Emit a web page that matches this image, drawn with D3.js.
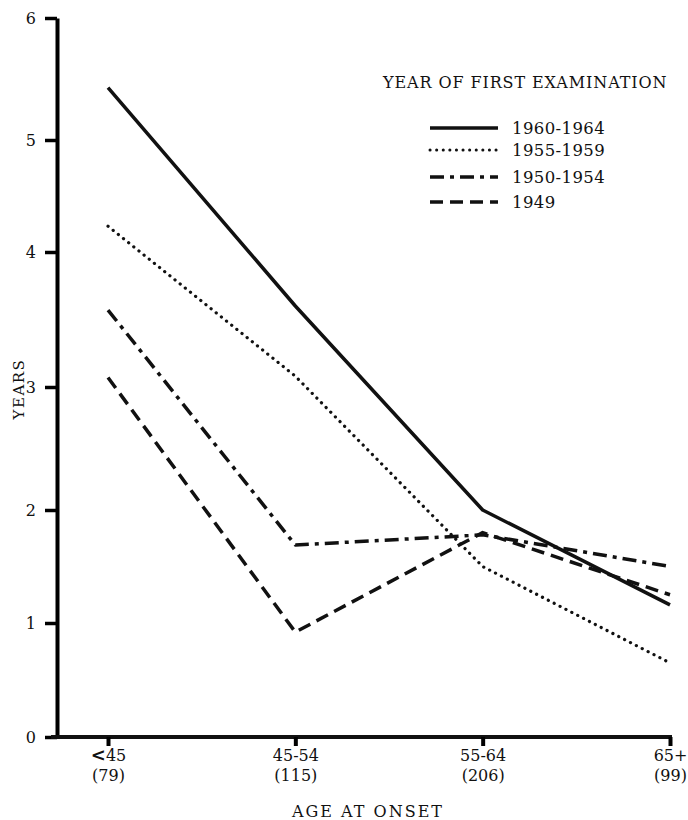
<!DOCTYPE html>
<html>
<head>
<meta charset="utf-8">
<script src="https://cdnjs.cloudflare.com/ajax/libs/d3/7.8.5/d3.min.js"></script>
<style>
  body { margin: 0; background: #fff; }
  text { font-family: "DejaVu Serif", serif; fill: #111; }
</style>
</head>
<body>
<script>
const width = 688;
const height = 820;

// data
const ages = ["<45", "45-54", "55-64", "65+"];
const counts = ["(79)", "(115)", "(206)", "(99)"];
const years1960 = [5.43, 3.6, 2.0, 1.16];
const years1955 = [4.23, 3.08, 1.5, 0.65];
const years1950 = [3.57, 1.69, 1.78, 1.5];
const years1949 = [3.07, 0.92, 1.8, 1.25];
const seriesNames = ["1960-1964", "1955-1959", "1950-1954", "1949"];
const yTicks = [0, 1, 2, 3, 4, 5, 6];

const series = [
    { name: seriesNames[0], values: years1960, dash: null, cap: "butt" },
    { name: seriesNames[1], values: years1955, dash: "0.1,6.5", cap: "round" },
    { name: seriesNames[2], values: years1950, dash: "14,6,4,6", cap: "butt" },
    { name: seriesNames[3], values: years1949, dash: "13,7", cap: "butt" }
];

const axisX = 57;
const axisY = 737;

const xScale = d3.scalePoint()
                .domain(ages)
                .range([108, 670]);

// the scanned axis is not evenly spaced, so the scale follows its ticks
const yScale = d3.scaleLinear()
                .domain(yTicks)
                .range([axisY, 623, 510, 387, 252, 140, 18]);

const svg = d3.select('body').append('svg')
                .attr("width", width).attr("height", height);

// y axis
const yAxis = d3.axisLeft(yScale).tickValues(yTicks).tickFormat(d3.format("d"))
                .tickSize(12).tickSizeOuter(0).tickPadding(9);
const gy = svg.append('g').attr("transform", "translate(" + axisX + ",0)").call(yAxis);
gy.attr("font-family", null);
gy.select(".domain").attr("stroke-width", 4);
gy.selectAll(".tick line").attr("stroke-width", 3.5);
gy.selectAll(".tick text").style("font-size", "16px").attr("dy", "0.35em");

// x axis baseline runs from the y axis
svg.append('line')
    .attr("x1", axisX - 6).attr("x2", xScale("65+") + 2)
    .attr("y1", axisY).attr("y2", axisY)
    .attr("stroke", "#111").attr("stroke-width", 4);

const xAxis = d3.axisBottom(xScale).tickSize(9).tickSizeOuter(0).tickFormat("");
const gx = svg.append('g').attr("transform", "translate(0," + axisY + ")").call(xAxis);
gx.attr("font-family", null);
gx.select(".domain").remove();
gx.selectAll(".tick line").attr("stroke-width", 4);

// two-line category labels: age band, then count
gx.selectAll(".tick").each(function(d, i) {
    const tick = d3.select(this);
    const t = tick.append('text')
        .attr("text-anchor", "middle")
        .attr("y", 24)
        .style("font-size", "16px");
    if (d.startsWith("<")) {
        t.append('tspan').text("<").style("font-weight", "bold")
            .style("font-family", "DejaVu Sans").style("font-size", "18px");
        t.append('tspan').text(d.slice(1));
    } else {
        t.text(d);
    }
    tick.append('text')
        .attr("text-anchor", "middle")
        .attr("y", 44)
        .style("font-size", "16px")
        .text(counts[i]);
});

svg.append('text')
    .attr("x", 368).attr("y", 817)
    .attr("text-anchor", "middle")
    .style("font-size", "16px")
    .style("letter-spacing", "2px")
    .text("AGE AT ONSET");

svg.append('text')
    .attr("transform", "translate(24,389) rotate(-90)")
    .attr("text-anchor", "middle")
    .style("font-size", "15px")
    .style("letter-spacing", "1.5px")
    .text("YEARS");

// lines
const line = d3.line()
    .x((d, i) => xScale(ages[i]))
    .y(d => yScale(d));

svg.selectAll('path.series').data(series).enter().append('path')
    .attr("class", "series")
    .attr("d", d => line(d.values))
    .attr("fill", "none")
    .attr("stroke", "#111")
    .attr("stroke-width", d => d.cap === "round" ? 3.2 : 3.5)
    .attr("stroke-linecap", d => d.cap)
    .attr("stroke-linejoin", "round")
    .attr("stroke-dasharray", d => d.dash);

// legend
svg.append('text')
    .attr("x", 383).attr("y", 88)
    .style("font-size", "16px")
    .style("letter-spacing", "0.9px")
    .text("YEAR OF FIRST EXAMINATION");

const legendY = [128, 150, 177, 202];
const legend = svg.selectAll('g.legend').data(series).enter().append('g')
    .attr("class", "legend")
    .attr("transform", (d, i) => "translate(430," + legendY[i] + ")");

legend.append('line')
    .attr("x1", 0).attr("x2", 68)
    .attr("stroke", "#111")
    .attr("stroke-width", d => d.cap === "round" ? 3 : 3.5)
    .attr("stroke-linecap", d => d.cap)
    .attr("stroke-dasharray", d => d.dash);

legend.append('text')
    .attr("x", 82).attr("y", 6)
    .style("font-size", "16.5px")
    .style("letter-spacing", "0.4px")
    .text(d => d.name);
</script>
</body>
</html>
